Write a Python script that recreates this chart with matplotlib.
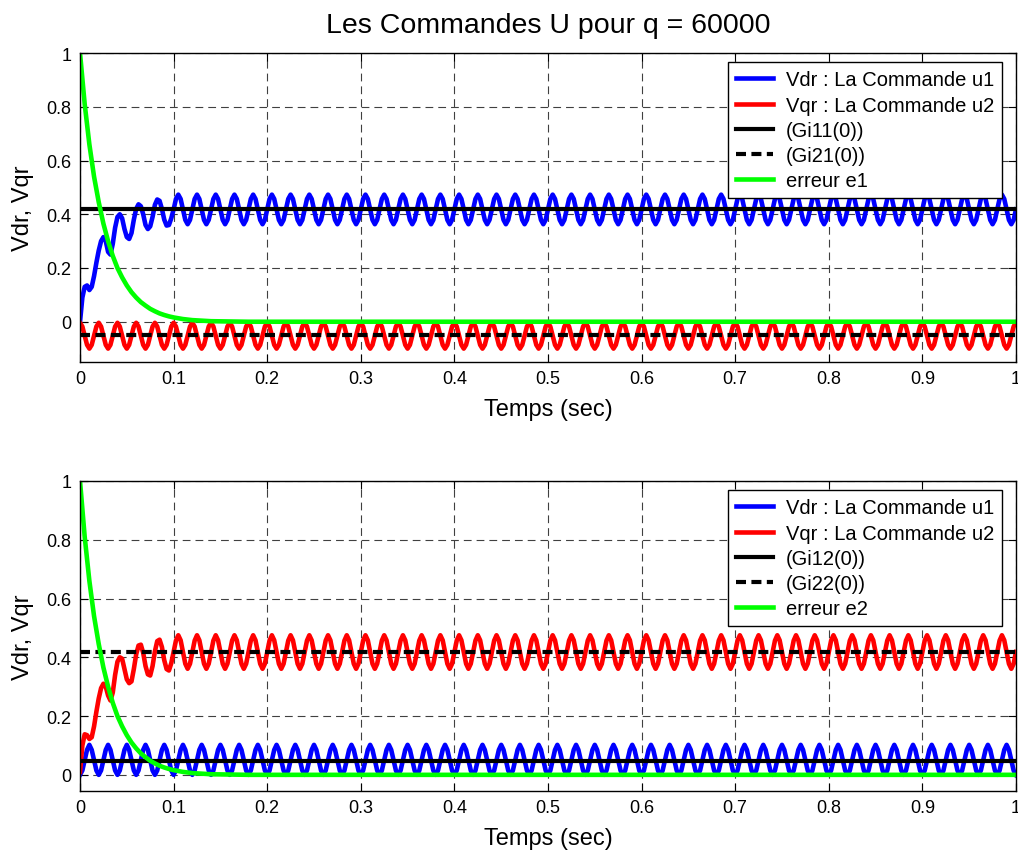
import matplotlib.pyplot as plt
import numpy as np

plt.rcParams['font.family'] = ['Liberation Sans', 'DejaVu Sans']

DT = 0.0025          # sample spacing of the recorded signals (s)
N_CYCLES = 50        # 50 Hz ripple over 1 s

# --- loop 1 ---------------------------------------------------------------
# Vdr (u1): start-up part, t = 0 .. 0.0975 s
U1_START_1 = [0.000, 0.090, 0.130, 0.135, 0.118, 0.130, 0.170, 0.220,
              0.265, 0.300, 0.315, 0.300, 0.260, 0.250, 0.290, 0.350,
              0.390, 0.400, 0.385, 0.345, 0.315, 0.308, 0.330, 0.380,
              0.420, 0.437, 0.430, 0.400, 0.360, 0.345, 0.355, 0.390,
              0.435, 0.455, 0.450, 0.420, 0.380, 0.358, 0.360, 0.385]
# Vdr (u1): one 20 ms period of the steady ripple
U1_CYCLE_1 = [0.418, 0.457, 0.473, 0.457, 0.418, 0.379, 0.363, 0.379]
# Vqr (u2): ripple period, steady from t = 0
U2_CYCLE_1 = [-0.004, -0.018, -0.052, -0.086, -0.100, -0.086, -0.052, -0.018]
GI11 = 0.418
GI21 = -0.048

# --- loop 2 ---------------------------------------------------------------
U1_CYCLE_2 = [0.000, 0.015, 0.050, 0.085, 0.102, 0.085, 0.050, 0.015]
U2_START_2 = [0.010, 0.100, 0.138, 0.135, 0.122, 0.128, 0.165, 0.215,
              0.260, 0.295, 0.310, 0.300, 0.270, 0.253, 0.280, 0.340,
              0.385, 0.400, 0.395, 0.360, 0.325, 0.312, 0.318, 0.360,
              0.410, 0.440, 0.443, 0.415, 0.370, 0.342, 0.338, 0.370,
              0.420, 0.455, 0.460, 0.435, 0.390, 0.360, 0.355, 0.380]
U2_CYCLE_2 = [0.418, 0.457, 0.475, 0.458, 0.418, 0.378, 0.361, 0.378]
GI12 = 0.048
GI22 = 0.418

# tracking error (same decay in both loops)
E_T = [0.000, 0.005, 0.010, 0.015, 0.020, 0.025, 0.030, 0.035, 0.040,
       0.045, 0.050, 0.055, 0.060, 0.065, 0.070, 0.075, 0.080, 0.085,
       0.090, 0.095, 0.100, 0.110, 0.120, 0.130, 0.140, 0.160, 0.180, 1.000]
E_1 = [1.000, 0.810, 0.660, 0.540, 0.445, 0.365, 0.300, 0.245, 0.200,
       0.165, 0.135, 0.110, 0.090, 0.073, 0.060, 0.048, 0.039, 0.031,
       0.025, 0.020, 0.016, 0.010, 0.006, 0.004, 0.002, 0.001, 0.000, 0.000]
E_2 = [1.000, 0.810, 0.660, 0.540, 0.445, 0.365, 0.300, 0.245, 0.200,
       0.165, 0.135, 0.110, 0.090, 0.073, 0.060, 0.048, 0.039, 0.031,
       0.025, 0.020, 0.016, 0.010, 0.006, 0.004, 0.002, 0.001, 0.000, 0.000]

X_TICKS = [0, 0.1, 0.2, 0.3, 0.4, 0.5, 0.6, 0.7, 0.8, 0.9, 1]
X_LABELS = ['0', '0.1', '0.2', '0.3', '0.4', '0.5', '0.6', '0.7', '0.8', '0.9', '1']
Y_TICKS = [0, 0.2, 0.4, 0.6, 0.8, 1]
Y_LABELS = ['0', '0.2', '0.4', '0.6', '0.8', '1']


def signal(start, cycle):
    """Start-up samples followed by the repeated ripple period."""
    n_rep = N_CYCLES - int(round(len(start) * DT / 0.02))
    y = np.concatenate([start, np.tile(cycle, n_rep), cycle[:1]])
    t = np.arange(len(y)) * DT
    return t, y


def draw(ax, u1, u2, g_solid, g_dash, err, names, ylim):
    lw = 3.3
    ax.plot(*u1, color='#0000ff', lw=lw, label=names[0])
    ax.plot(*u2, color='#ff0000', lw=lw, label=names[1])
    ax.axhline(g_solid, color='black', lw=3, label=names[2])
    ax.axhline(g_dash, color='black', lw=3, dashes=(2.4, 1.3), label=names[3])
    ax.plot(E_T, err, color='#00ff00', lw=lw, label=names[4])

    ax.set_xlim(0, 1)
    ax.set_ylim(*ylim)
    ax.set_xticks(X_TICKS)
    ax.set_xticklabels(X_LABELS)
    ax.set_yticks(Y_TICKS)
    ax.set_yticklabels(Y_LABELS)
    ax.tick_params(direction='in', top=True, right=True, length=6,
                   labelsize=13, pad=6, colors='black')
    ax.set_axisbelow(True)
    ax.grid(True, color='0.25', lw=0.8, linestyle=(0, (7, 4.5)))
    for sp in ax.spines.values():
        sp.set_linewidth(1.0)
    ax.set_xlabel('Temps (sec)', fontsize=17, labelpad=8)
    ax.set_ylabel('Vdr, Vqr', fontsize=17, labelpad=9)

    leg = ax.legend(loc='upper right', bbox_to_anchor=(0.985, 0.970),
                    borderaxespad=0, fontsize=14.5, fancybox=False,
                    framealpha=1, edgecolor='black', handlelength=1.8,
                    handletextpad=0.65, labelspacing=0.31, borderpad=0.4)
    leg.get_frame().set_linewidth(1.0)


fig = plt.figure(figsize=(10.18, 8.54), dpi=100, facecolor='white')
ax1 = fig.add_axes([0.0786, 0.5749, 0.9194, 0.3618])
ax2 = fig.add_axes([0.0786, 0.0726, 0.9194, 0.3630])

draw(ax1, signal(U1_START_1, U1_CYCLE_1), signal([], U2_CYCLE_1), GI11, GI21, E_1,
     ['Vdr : La Commande u1', 'Vqr : La Commande u2', '(Gi11(0))',
      '(Gi21(0))', 'erreur e1'], (-0.15, 1))
draw(ax2, signal([], U1_CYCLE_2), signal(U2_START_2, U2_CYCLE_2), GI12, GI22, E_2,
     ['Vdr : La Commande u1', 'Vqr : La Commande u2', '(Gi12(0))',
      '(Gi22(0))', 'erreur e2'], (-0.055, 1))

ax1.set_title('Les Commandes U pour q = 60000', fontsize=20.5, pad=15)

fig.savefig('out.png', dpi=100, facecolor='white')
